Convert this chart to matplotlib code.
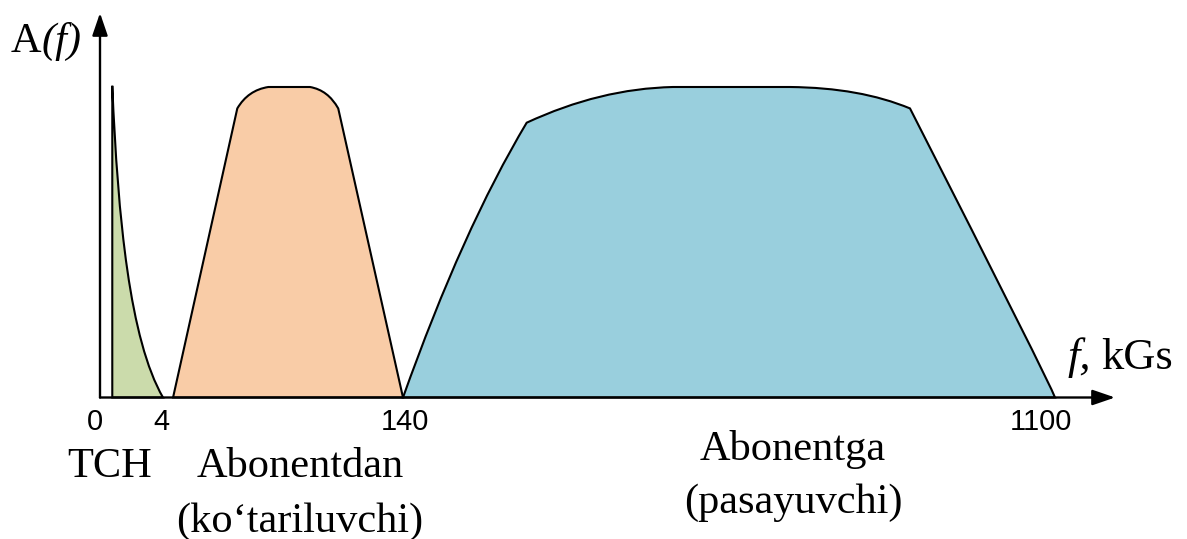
import numpy as np
import matplotlib
matplotlib.use("Agg")
import matplotlib.pyplot as plt
from matplotlib.path import Path
from matplotlib.patches import PathPatch

# ---- data -------------------------------------------------------------
# frequency axis marks (kHz)
tick_freqs = [0, 4, 140, 1100]
tick_labels = ["0", "4", "140", "1100"]

M, L, Q, C = Path.MOVETO, Path.LINETO, Path.CURVE3, Path.CURVE4

# voice channel (TCH): frequency (kHz), relative amplitude, path codes
tch_f = [0.78, 0.78, 1.14, 1.90, 4.0]
tch_a = [0.0, 1.004, 0.572, 0.185, 0.0]
tch_codes = [M, L, C, C, C]

# upstream band (Abonentdan)
up_f = [9.7, 46.1, 52.2, 63.7, 87.3, 97.5, 103.3, 140.0]
up_a = [0.0, 0.931, 0.990, 1.0, 1.0, 0.990, 0.931, 0.0]
up_codes = [M, L, Q, Q, L, Q, Q, L]

# downstream band (Abonentga)
down_f = [140.0, 227.9, 322.1, 430.1, 537.5, 709.8, 812.9, 886.5, 1091.9, 1100.0]
down_a = [0.0, 0.541, 0.885, 0.995, 1.0, 1.0, 0.998, 0.931, 0.050, 0.0]
down_codes = [M, Q, Q, Q, Q, L, Q, Q, Q, Q]

band_colors = ["#CBDBAB", "#F9CCA7", "#99CFDD"]

# ---- figure -----------------------------------------------------------
W, H = 1187, 539
fig = plt.figure(figsize=(W / 100, H / 100), dpi=100)
ax = fig.add_axes([0, 0, 1, 1])
ax.axis("off")

# schematic (piecewise linear) frequency axis
F_KNOTS = np.array([-8.0, 0.0, 4.0, 140.0, 1100.0, 1400.0])
P_KNOTS = np.array([-26.0, 100.0, 163.0, 403.0, 1055.0, 1258.75])


def fwd(f):
    return np.interp(f, F_KNOTS, P_KNOTS)


def inv(p):
    return np.interp(p, P_KNOTS, F_KNOTS)


ax.set_xscale("function", functions=(fwd, inv))
ax.set_xlim(inv(0), inv(W))
Y0, YS = 397.5, 310.5  # baseline row and unit height of the amplitude axis
ax.set_ylim((Y0 - H) / YS, Y0 / YS)


def at(x, y):
    """Position given as figure pixels from the top-left corner."""
    return float(inv(x)), (Y0 - y) / YS


LW = 1.5
for f, a, codes, col in [(tch_f, tch_a, tch_codes, band_colors[0]),
                         (up_f, up_a, up_codes, band_colors[1]),
                         (down_f, down_a, down_codes, band_colors[2])]:
    verts = list(zip(f, a)) + [(f[0], a[0])]
    path = Path(verts, list(codes) + [Path.CLOSEPOLY])
    ax.add_patch(PathPatch(path, facecolor=col, edgecolor="black",
                           lw=LW, joinstyle="miter", zorder=2))

# axes with arrow heads
arrow = dict(arrowstyle="-|>,head_length=1.37,head_width=0.47",
             mutation_scale=10, lw=1.7, color="black",
             shrinkA=0, shrinkB=0)
y_tip = at(100, 13)[1]
x_tip = at(1115, 0)[0]
ax.annotate("", xy=(0, y_tip), xytext=(0, 0), arrowprops=arrow, zorder=3)
ax.annotate("", xy=(x_tip, 0), xytext=(0, 0), arrowprops=arrow, zorder=3)

# tick labels
tick_dx = [-5.5, -2, 2, -14]
for f, lab, dx in zip(tick_freqs, tick_labels, tick_dx):
    ax.annotate(lab, xy=(f, 0), xytext=(dx, -32.5), textcoords="offset pixels",
                ha="center", va="baseline", fontfamily="Liberation Sans",
                fontsize=21)

serif = dict(fontfamily="Liberation Serif", fontsize=30.5, va="baseline")

# axis titles
ax.text(*at(11, 52), "A", ha="left", **serif)
ax.text(*at(42, 52), "(f)", ha="left", style="italic", **serif)
big = dict(serif, fontsize=32)
ax.text(*at(1068, 369), "f,", ha="left", style="italic", **big)
ax.text(*at(1101, 369), "kGs", ha="left", **big)

# band captions
ax.text(*at(110, 477), "TCH", ha="center", **serif)
ax.text(*at(300, 477), "Abonentdan", ha="center", **serif)
ax.text(*at(300, 532), "(ko‘tariluvchi)", ha="center", **serif)
ax.text(*at(793, 460), "Abonentga", ha="center", **serif)
ax.text(*at(793, 513), "(pasayuvchi)", ha="center", **serif)

fig.savefig("out.png", dpi=100)
